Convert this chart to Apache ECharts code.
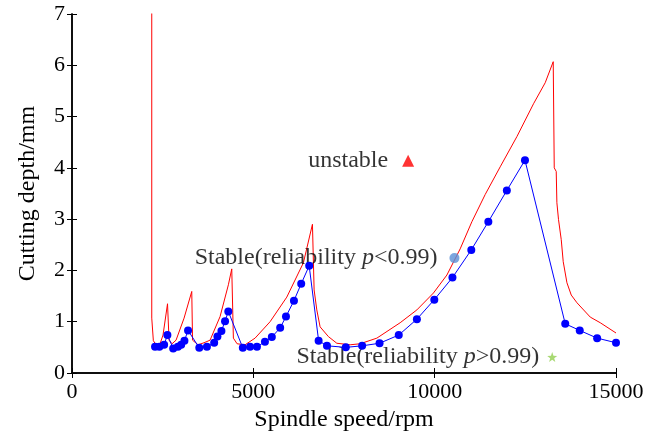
<!DOCTYPE html>
<html>
<head>
<meta charset="utf-8">
<script src="https://cdn.jsdelivr.net/npm/echarts@6/dist/echarts.min.js"></script>
<style>html,body{margin:0;padding:0;background:#fff;}#c{width:661px;height:432px;}</style>
</head>
<body>
<div id="c"></div>
<script>
// Stability lobe boundary (red)
var lobeRpm = [2199,2199,2243,2243,2317,2428,2510,2634,2662,2676,2759,2869,3090,3302,3324,3476,3641,3807,4083,4312,4405,4441,4450,4552,4772,5048,5462,5923,6381,6630,6662,6676,6750,6841,7070,7302,7669,7945,8406,9048,9509,9967,10337,10703,11026,11393,11807,12268,12726,13048,13269,13297,13297,13352,13370,13415,13490,13545,13647,13766,13923,14290,14566,15000];
var lobeDepth = [8,1.07,1.04,0.63,0.55,0.57,0.74,1.35,1.35,0.64,0.57,0.64,1.07,1.59,0.64,0.55,0.59,0.64,1.10,1.72,2.03,2.03,0.68,0.57,0.55,0.68,1.00,1.48,2.15,2.90,2.90,1.62,1.23,0.90,0.71,0.58,0.55,0.57,0.68,0.98,1.23,1.56,1.91,2.42,2.95,3.48,4.02,4.61,5.25,5.66,6.07,6.07,4.00,3.93,3.32,2.99,2.60,2.17,1.76,1.52,1.37,1.09,0.98,0.78];
// Reliability boundary (blue)
var relRpm = [2290,2410,2540,2630,2790,2920,3010,3100,3200,3510,3720,3920,4010,4120,4220,4310,4710,4910,5100,5320,5510,5740,5900,6120,6320,6540,6800,7030,7550,8000,8480,9010,9510,9990,10490,11010,11480,11990,12490,13600,14000,14480,15000];
var relDepth = [0.51,0.51,0.55,0.74,0.48,0.51,0.55,0.63,0.83,0.49,0.51,0.59,0.71,0.82,1.01,1.20,0.49,0.51,0.51,0.61,0.70,0.88,1.10,1.41,1.74,2.09,0.63,0.53,0.50,0.53,0.58,0.74,1.05,1.43,1.86,2.40,2.95,3.56,4.15,0.96,0.83,0.68,0.59];
// Sample markers
var unstablePt = [9269, 4.14];
var stableLowPt = [10546, 2.24];
var stableHighPt = [13241, 0.31];
var xTicks = [0, 5000, 10000, 15000];
var yTicks = [0, 1, 2, 3, 4, 5, 6, 7];

var FONT = 'Liberation Serif';
function zip(a, b) { return a.map(function (v, i) { return [v, b[i]]; }); }

var chart = echarts.init(document.getElementById('c'), null, {renderer: 'canvas'});
var axisLine = {show: true, lineStyle: {color: '#000', width: 1.5}};
var tick = {show: true, inside: true, length: 5, lineStyle: {color: '#000', width: 1}};
var lblStyle = {fontFamily: FONT, fontSize: 22, color: '#000', formatter: function (v) { return String(v); }};
var TXT = 24;

chart.setOption({
  backgroundColor: '#fff',
  animation: false,
  grid: {left: 72, right: 45, top: 14, bottom: 59, containLabel: false, outerBoundsMode: 'none'},
  xAxis: [{
    type: 'value', min: xTicks[0], max: xTicks[xTicks.length - 1], interval: 5000,
    position: 'bottom',
    name: 'Spindle speed/rpm', nameLocation: 'middle', nameGap: 32,
    nameTextStyle: {fontFamily: FONT, fontSize: TXT, color: '#000'},
    axisLine: axisLine, axisTick: tick, splitLine: {show: false},
    axisLabel: Object.assign({margin: 8}, lblStyle)
  }, {
    type: 'value', min: xTicks[0], max: xTicks[xTicks.length - 1], interval: 5000,
    position: 'top',
    axisLine: axisLine, axisTick: tick, splitLine: {show: false},
    axisLabel: {show: false}
  }],
  yAxis: [{
    type: 'value', min: yTicks[0], max: yTicks[yTicks.length - 1], interval: 1,
    position: 'left',
    name: 'Cutting depth/mm', nameLocation: 'middle', nameGap: 32,
    nameTextStyle: {fontFamily: FONT, fontSize: TXT, color: '#000'},
    axisLine: axisLine, axisTick: tick, splitLine: {show: false},
    axisLabel: Object.assign({margin: 7}, lblStyle)
  }, {
    type: 'value', min: yTicks[0], max: yTicks[yTicks.length - 1], interval: 1,
    position: 'right',
    axisLine: axisLine, axisTick: tick, splitLine: {show: false},
    axisLabel: {show: false}
  }],
  series: [{
    type: 'line',
    data: zip(lobeRpm, lobeDepth),
    symbol: 'none',
    clip: true,
    lineStyle: {color: '#ff0000', width: 1},
    z: 2
  }, {
    type: 'line',
    data: zip(relRpm, relDepth),
    symbol: 'circle',
    symbolSize: 8,
    clip: false,
    itemStyle: {color: '#0000ff'},
    lineStyle: {color: '#0000ff', width: 1},
    z: 3
  }, {
    type: 'scatter',
    data: [unstablePt],
    symbol: 'triangle',
    symbolSize: 12,
    itemStyle: {color: '#ff0000'},
    label: {show: true, position: 'left', distance: 14, formatter: 'unstable',
      fontFamily: FONT, fontSize: TXT, color: '#000'}
  }, {
    type: 'scatter',
    data: [stableLowPt],
    symbol: 'circle',
    symbolSize: 10,
    itemStyle: {color: '#5b8fd6'},
    label: {show: true, position: 'left', distance: 12,
      formatter: '{a|Stable(reliability }{i|p}{a|<0.99)}',
      rich: {
        a: {fontFamily: FONT, fontSize: TXT, color: '#000'},
        i: {fontFamily: FONT, fontSize: TXT, color: '#000', fontStyle: 'italic'}
      }}
  }, {
    type: 'scatter',
    data: [stableHighPt],
    symbol: 'path://M0,-10 L2.35,-3.24 L9.51,-3.09 L3.8,1.24 L5.88,8.09 L0,4 L-5.88,8.09 L-3.8,1.24 L-9.51,-3.09 L-2.35,-3.24 Z',
    symbolSize: 10,
    itemStyle: {color: '#92d050'},
    label: {show: true, position: 'left', distance: 8,
      formatter: '{a|Stable(reliability }{i|p}{a|>0.99)}',
      rich: {
        a: {fontFamily: FONT, fontSize: TXT, color: '#000'},
        i: {fontFamily: FONT, fontSize: TXT, color: '#000', fontStyle: 'italic'}
      }}
  }]
});
</script>
</body>
</html>
